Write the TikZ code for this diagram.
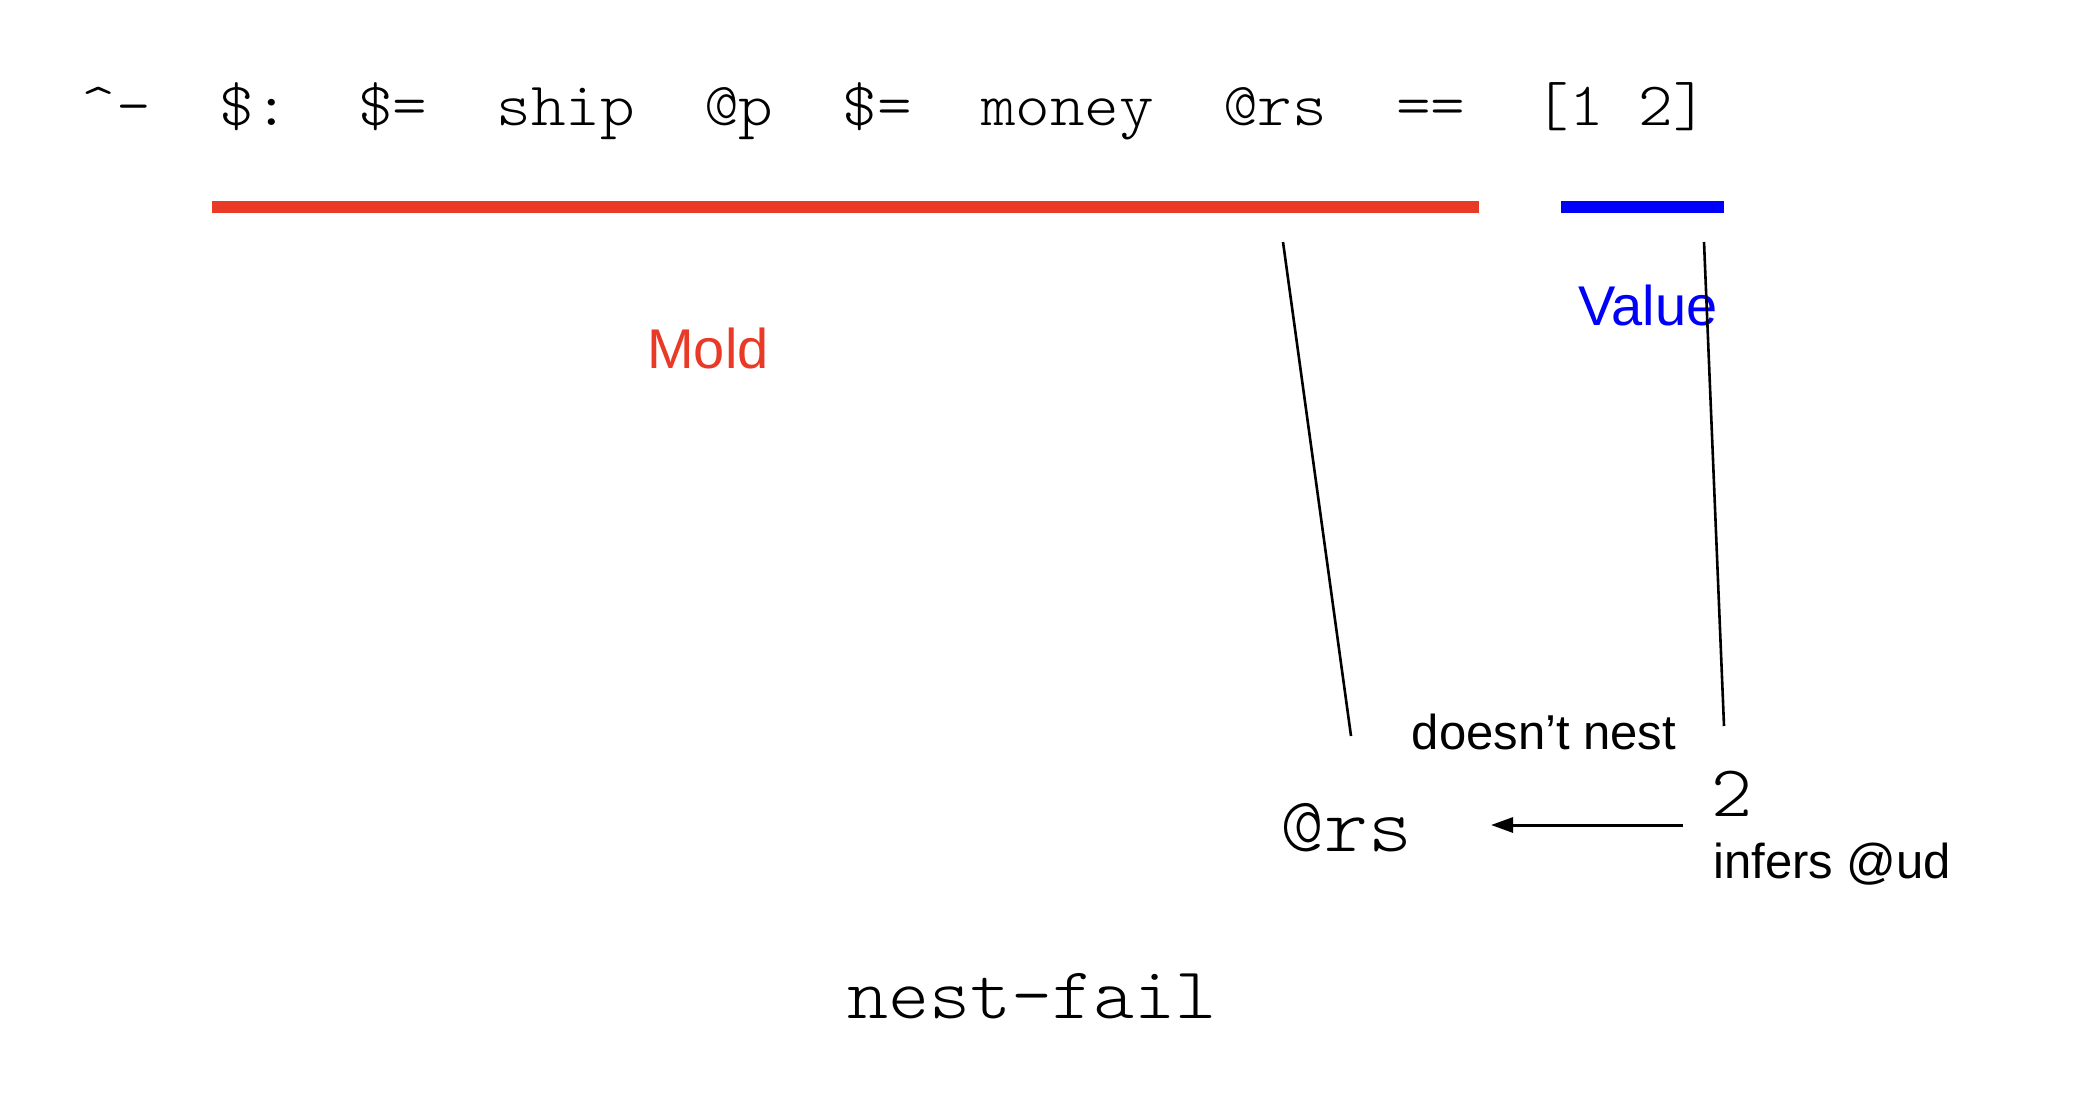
\documentclass[tikz,border=0pt]{standalone}
\usepackage{fontspec}
\setmainfont{Liberation Sans}
\newfontfamily\cour{lmmonolt10-regular.otf}[FakeStretch=1.07]
\usetikzlibrary{arrows.meta}
\definecolor{moldred}{RGB}{233,57,39}
\definecolor{valblue}{RGB}{0,0,250}
\begin{document}
\begin{tikzpicture}[x=0.5pt,y=-0.5pt,
  code/.style={font=\cour\fontsize{30.8}{36}\selectfont, inner sep=0pt, anchor=base west},
  bigcode/.style={font=\cour\fontsize{39}{46}\selectfont, inner sep=0pt},
  midcode/.style={font=\cour\fontsize{36.5}{43}\selectfont, inner sep=0pt},
  lbl/.style={font=\fontsize{24.5}{29}\selectfont, inner sep=0pt},
  biglbl/.style={font=\fontsize{28}{33}\selectfont, inner sep=0pt},
  link/.style={line width=1.3pt, draw=black},
  arrowlink/.style={line width=1.5pt, draw=black, -{Triangle[length=11pt,width=7.5pt]}},
]
\useasboundingbox[fill=white] (0,0) rectangle (2092,1098);
% expression
\node[code] (expr) at (81,125) {\textasciicircum-~~\$:~~\$=~~ship~~@p~~\$=~~money~~@rs~~==~~[1~2]};
% bars
\fill[moldred] (212,200.5) rectangle (1479,212.5);
\fill[valblue] (1561,200.5) rectangle (1724,212.5);
% labels
\node[biglbl, text=moldred, anchor=base] (mold) at (708,368) {Mold};
\node[biglbl, text=valblue, anchor=base] (value) at (1648,325) {Value};
\node[lbl, anchor=base] (nest) at (1544,749) {doesn’t nest};
\node[bigcode, anchor=base west] (rs) at (1280,851) {@rs};
\node[midcode, anchor=base west] (two) at (1711,816) {2};
\node[lbl, anchor=base west] (infers) at (1713,878) {infers @ud};
\node[midcode, anchor=base] (fail) at (1032,1018) {nest-fail};
% connectors
\coordinate (a1) at (1283,242); \coordinate (a2) at (1351,736);
\coordinate (b1) at (1704,242); \coordinate (b2) at (1724,726);
\coordinate (c1) at (1683,825); \coordinate (c2) at (1491,825);
\draw[link] (a1) -- (a2);
\draw[link] (b1) -- (b2);
\draw[arrowlink] (c1) -- (c2);
\end{tikzpicture}
\end{document}
